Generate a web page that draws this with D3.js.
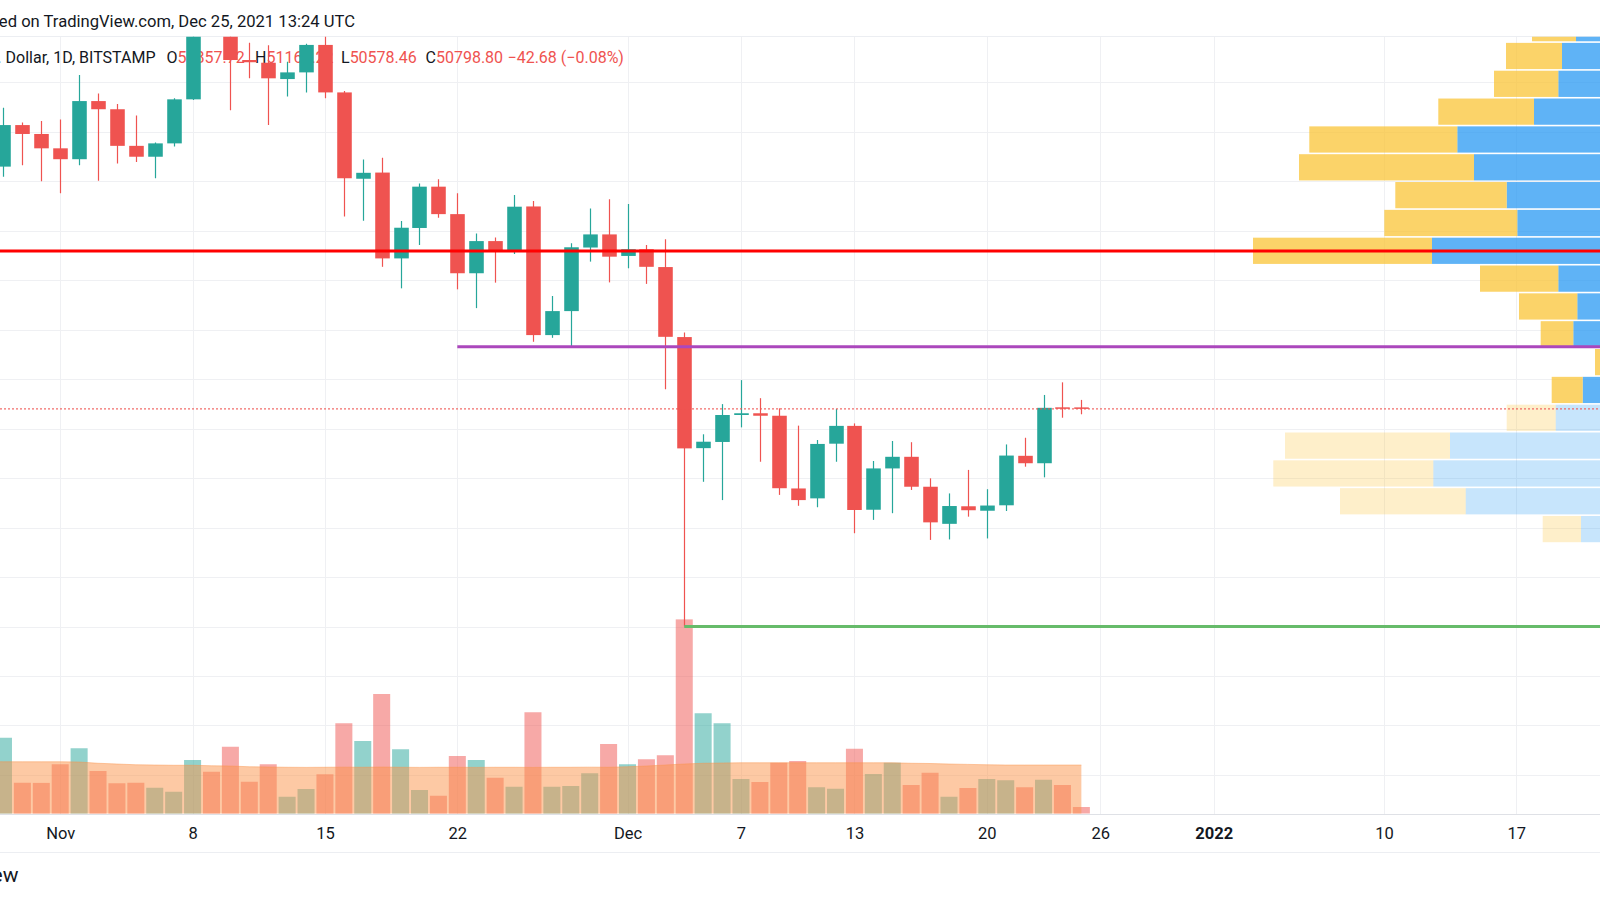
<!DOCTYPE html>
<html><head><meta charset="utf-8">
<script src="https://cdn.jsdelivr.net/npm/d3@7"></script>
<style>
body{margin:0;background:#fff;}
svg{display:block;font-family:Roboto,"Noto Sans",sans-serif;}
</style>
</head><body>
<svg id="chart" width="1600" height="900"></svg>
<script>
// ---------- DATA ----------
const dates = ["2021-10-28","2021-10-29","2021-10-30","2021-10-31","2021-11-01","2021-11-02","2021-11-03","2021-11-04","2021-11-05","2021-11-06","2021-11-07","2021-11-08","2021-11-09","2021-11-10","2021-11-11","2021-11-12","2021-11-13","2021-11-14","2021-11-15","2021-11-16","2021-11-17","2021-11-18","2021-11-19","2021-11-20","2021-11-21","2021-11-22","2021-11-23","2021-11-24","2021-11-25","2021-11-26","2021-11-27","2021-11-28","2021-11-29","2021-11-30","2021-12-01","2021-12-02","2021-12-03","2021-12-04","2021-12-05","2021-12-06","2021-12-07","2021-12-08","2021-12-09","2021-12-10","2021-12-11","2021-12-12","2021-12-13","2021-12-14","2021-12-15","2021-12-16","2021-12-17","2021-12-18","2021-12-19","2021-12-20","2021-12-21","2021-12-22","2021-12-23","2021-12-24","2021-12-25"];
const open  = [58420,60590,62270,61910,61330,60890,63240,62910,61430,60990,61530,63310,67550,66950,64900,64790,64130,64400,65510,63590,60100,60350,56880,58110,59780,58670,56280,57580,57150,58980,53780,54750,57320,57850,56980,57250,56530,53700,49210,49460,50550,50620,50520,47580,47180,49390,50110,46720,48390,48860,47650,46150,46860,46680,46900,48900,48600,50860,50857.72];
const high  = [62480,62970,62370,62430,62500,64290,63550,63120,62660,61570,63350,67800,68500,69000,65600,65500,64830,65560,66300,63650,60880,60950,58390,59910,60080,59510,57890,57730,59440,59200,55360,57490,58900,59270,59080,57420,57650,53880,49770,50990,51960,51230,50820,50120,49540,50790,50210,48690,49500,49450,47990,47380,48330,47550,49360,49630,51360,51870,51160.22];
const low   = [57450,60180,60650,60000,59510,60650,60020,60720,60780,60120,61400,63280,66340,62870,64160,62270,63420,63590,63350,58570,58400,56540,55670,57420,58520,55630,54870,55900,57060,53510,53670,53310,56750,55910,56480,55850,51590,42000,47850,47110,50050,48660,47320,46880,46820,48660,45770,46310,46580,47520,45500,45520,46440,45560,46670,48460,48030,50440,50578.46];
const close = [60580,62270,61910,61330,60890,63240,62910,61430,60990,61530,63310,67550,66950,64900,64810,64160,64400,65510,63590,60120,60340,56880,58120,59780,58670,56280,57580,57150,58970,53780,54750,57330,57850,56950,57250,56540,53710,49200,49470,50550,50620,50520,47590,47110,49380,50110,46710,48390,48860,47650,46210,46870,46700,46890,48910,48600,50840,50841.48,50798.80];
const volume = [6500,6060,2460,2450,3940,5220,3400,2420,2460,2060,1740,4280,3340,5340,2540,3940,1340,1960,3140,7220,5800,9560,5140,1880,1420,4600,4280,2860,2140,8100,2140,2200,3220,5560,3940,4340,4660,15530,8020,7220,2760,2520,4060,4200,2100,1980,5180,3160,4060,2280,3260,1340,2040,2760,2660,2100,2700,2280,520];
const volumeMA = [4150,4140,4140,4140,4140,4120,4020,3960,3900,3880,3860,3860,3820,3800,3740,3720,3700,3690,3700,3710,3700,3720,3700,3690,3700,3700,3690,3700,3700,3690,3700,3700,3710,3700,3740,3800,3880,3960,4020,4040,4060,4060,4060,4060,4060,4060,4060,4060,4060,4020,4000,3960,3930,3900,3880,3880,3880,3880,3880];

const tickDates  = ["2021-11-01","2021-11-08","2021-11-15","2021-11-22","2021-12-01","2021-12-07","2021-12-13","2021-12-20","2021-12-26","2022-01-01","2022-01-10","2022-01-17"];
const tickLabels = ["Nov","8","15","22","Dec","7","13","20","26","2022","10","17"];
const tickBold   = [false,false,false,false,false,false,false,false,false,true,false,false];
const priceGrid  = [36000,38000,40000,42000,44000,46000,48000,50000,52000,54000,56000,58000,60000,62000,64000];

const resistanceLevel = 57180;
const midLevel = 53310, midLevelStart = "2021-11-22";
const supportLevel = 42000, supportLevelStart = "2021-12-04";
const lastPrice = 50798.80;

// volume profile (visible range), rows of 1125 from 42000 to 69000
const profileRowLow = [42000,43125,44250,45375,46500,47625,48750,49875,51000,52125,53250,54375,55500,56625,57750,58875,60000,61125,62250,63375,64500,65625,66750,67875];
const profileRowSize = 1125;
const profileUp   = [3000,2000,3000,5900,17430,20670,19000,8430,5730,3000,6670,6270,8170,20800,12270,13330,16600,18270,10600,8170,7800,6400,5000,3000];
const profileDown = [900,600,800,3830,12570,16000,16500,4900,3100,1500,3260,5830,7830,17900,13300,11140,17500,14800,9570,6430,5600,4400,4000,2500];
const profileInValueArea = [0,0,0,0,0,0,0,0,1,1,1,1,1,1,1,1,1,1,1,1,1,1,1,1];

const headerText = "Published on TradingView.com, Dec 25, 2021 13:24 UTC";
const symbolText = "Bitcoin / U.S. Dollar, 1D, BITSTAMP";
const ohlcLabels = ["O","H","L","C"];
const ohlcValues = ["50857.72","51160.22","50578.46","50798.80"];
const changeText = "\u221242.68 (\u22120.08%)";

// ---------- SETUP ----------
const W = 1600, H = 900;
const paneTop = 36.7, paneBottom = 814, axisBottom = 852;
const svg = d3.select("#chart");
const parse = d3.utcParse("%Y-%m-%d");
const D = dates.map(parse);

const x = d3.scaleUtc().domain([parse("2021-11-01"), parse("2022-01-17")]).range([60.2, 1516.3]);
const y = d3.scaleLinear().domain([42000, 50000]).range([626.5, 428.6]);
const yv = d3.scaleLinear().domain([0, 20000]).range([813.5, 563.5]);
const pw = d3.scaleLinear().domain([0, 10000]).range([0, 100]);
const dayW = x(parse("2021-11-02")) - x(parse("2021-11-01"));
const bodyW = dayW * 0.77, volW = dayW * 0.9;
const profileAnchor = 1640;

const GREEN = "#26a69a", RED = "#ef5350", TEXT = "#131722";

svg.append("defs").append("clipPath").attr("id","pane")
  .append("rect").attr("x",0).attr("y",paneTop).attr("width",W).attr("height",paneBottom-paneTop);

// grid
const grid = svg.append("g").attr("clip-path","url(#pane)");
grid.selectAll("line.h").data(priceGrid).join("line")
  .attr("x1",0).attr("x2",W)
  .attr("y1",d=>Math.round(y(d))+0.5).attr("y2",d=>Math.round(y(d))+0.5)
  .attr("stroke","#eff0f3").attr("stroke-width",1);
grid.selectAll("line.v").data(tickDates).join("line")
  .attr("x1",d=>Math.round(x(parse(d)))+0.5).attr("x2",d=>Math.round(x(parse(d)))+0.5)
  .attr("y1",paneTop).attr("y2",paneBottom)
  .attr("stroke","#eff0f3").attr("stroke-width",1);

// pane borders
svg.append("line").attr("x1",0).attr("x2",W).attr("y1",36.5).attr("y2",36.5).attr("stroke","#eceef2");
svg.append("line").attr("x1",0).attr("x2",W).attr("y1",paneBottom+0.5).attr("y2",paneBottom+0.5).attr("stroke","#dfe1e6");
svg.append("line").attr("x1",0).attr("x2",W).attr("y1",axisBottom+0.5).attr("y2",axisBottom+0.5).attr("stroke","#eceef2");

// header
svg.append("text").attr("x",355).attr("y",26.5).attr("text-anchor","end")
  .attr("font-size",16.6).attr("fill",TEXT).text(headerText);

// legend (under candles)
const leg = svg.append("g").attr("font-size",16);
leg.append("text").attr("x",155.5).attr("y",63).attr("text-anchor","end").attr("fill",TEXT).text(symbolText);
const legX = [166.5, 255, 341, 425.5];
ohlcLabels.forEach((l,i)=>{
  const t = leg.append("text").attr("x",legX[i]).attr("y",63).attr("fill",TEXT);
  t.append("tspan").text(l);
  t.append("tspan").attr("fill",RED).text(ohlcValues[i]);
});
leg.append("text").attr("x",507.5).attr("y",63).attr("fill",RED).text(changeText);

// volume bars
const pane = svg.append("g").attr("clip-path","url(#pane)");
const idx = d3.range(D.length);
pane.append("g").selectAll("rect").data(idx).join("rect")
  .attr("x",i=>x(D[i])-volW/2).attr("width",volW)
  .attr("y",i=>yv(volume[i])).attr("height",i=>yv(0)-yv(volume[i]))
  .attr("fill",i=>close[i]>=open[i]?GREEN:RED).attr("fill-opacity",0.5);

// volume MA area
const area = d3.area().x(i=>x(D[i])).y0(yv(0)).y1(i=>yv(volumeMA[i]));
pane.append("path").attr("d",area(idx)).attr("fill","rgb(251,147,73)").attr("fill-opacity",0.5);
pane.append("path").attr("d",d3.line().x(i=>x(D[i])).y(i=>yv(volumeMA[i]))(idx))
  .attr("fill","none").attr("stroke","rgb(251,147,73)").attr("stroke-opacity",0.45).attr("stroke-width",1);

// volume profile
const prof = pane.append("g");
const rows = d3.range(profileRowLow.length);
prof.selectAll("rect.up").data(rows).join("rect")
  .attr("x",j=>profileAnchor-pw(profileUp[j])).attr("width",j=>pw(profileUp[j]))
  .attr("y",j=>y(profileRowLow[j]+profileRowSize)+0.8)
  .attr("height",j=>y(profileRowLow[j])-y(profileRowLow[j]+profileRowSize)-1.6)
  .attr("fill",j=>profileInValueArea[j]?"rgba(33,150,243,0.72)":"rgba(33,150,243,0.25)");
prof.selectAll("rect.dn").data(rows).join("rect")
  .attr("x",j=>profileAnchor-pw(profileUp[j]+profileDown[j])).attr("width",j=>pw(profileDown[j]))
  .attr("y",j=>y(profileRowLow[j]+profileRowSize)+0.8)
  .attr("height",j=>y(profileRowLow[j])-y(profileRowLow[j]+profileRowSize)-1.6)
  .attr("fill",j=>profileInValueArea[j]?"rgba(250,196,55,0.75)":"rgba(251,192,45,0.25)");

// candles
const cg = pane.append("g");
cg.selectAll("line").data(idx).join("line")
  .attr("x1",i=>Math.round(x(D[i]))+0.5).attr("x2",i=>Math.round(x(D[i]))+0.5)
  .attr("y1",i=>y(high[i])).attr("y2",i=>y(low[i]))
  .attr("stroke",i=>close[i]>=open[i]?GREEN:RED).attr("stroke-width",1.2);
cg.selectAll("rect").data(idx).join("rect")
  .attr("x",i=>Math.round(x(D[i]))+0.5-bodyW/2).attr("width",bodyW)
  .attr("y",i=>y(Math.max(open[i],close[i])))
  .attr("height",i=>Math.max(1.5, Math.abs(y(open[i])-y(close[i]))))
  .attr("fill",i=>close[i]>=open[i]?GREEN:RED);

// level lines
pane.append("line").attr("x1",0).attr("x2",W).attr("y1",y(lastPrice)).attr("y2",y(lastPrice))
  .attr("stroke",RED).attr("stroke-width",1.4).attr("stroke-dasharray","2,2").attr("stroke-opacity",0.85);
pane.append("line").attr("x1",0).attr("x2",W).attr("y1",y(resistanceLevel)).attr("y2",y(resistanceLevel))
  .attr("stroke","#ff0000").attr("stroke-width",3);
pane.append("line").attr("x1",x(parse(midLevelStart))).attr("x2",W).attr("y1",y(midLevel)).attr("y2",y(midLevel))
  .attr("stroke","#ab47bc").attr("stroke-width",3);
pane.append("line").attr("x1",x(parse(supportLevelStart))).attr("x2",W).attr("y1",y(supportLevel)).attr("y2",y(supportLevel))
  .attr("stroke","#66bb6a").attr("stroke-width",3);

// time axis
const axis = d3.axisBottom(x).tickValues(tickDates.map(parse)).tickSize(0).tickPadding(0)
  .tickFormat((d,i)=>tickLabels[i]);
const ag = svg.append("g").attr("transform",`translate(0,${paneBottom})`).call(axis);
ag.select(".domain").remove();
ag.selectAll("text").attr("y",25).attr("dy",0).attr("font-size",16.5).attr("fill",TEXT)
  .attr("font-family",'Roboto,"Noto Sans",sans-serif')
  .attr("font-weight",(d,i)=>tickBold[i]?700:400);

// footer logo text
svg.append("text").attr("x",18.5).attr("y",882).attr("text-anchor","end")
  .attr("font-size",21).attr("fill",TEXT).text("TradingView");
</script>
</body></html>
